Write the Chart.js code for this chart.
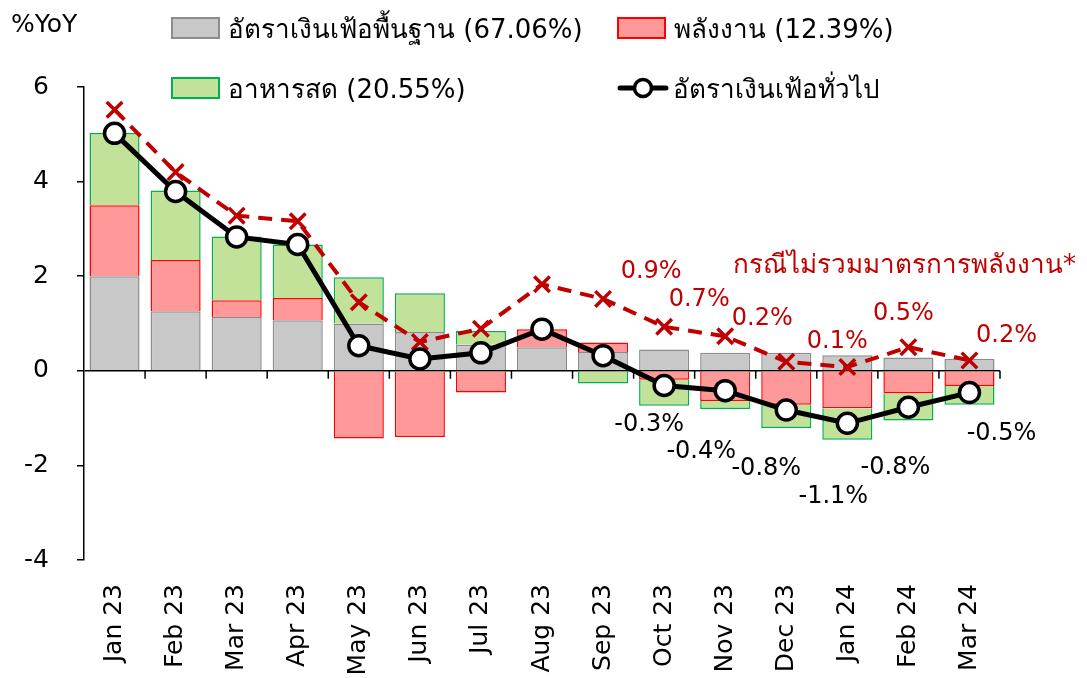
<!DOCTYPE html>
<html>
<head>
<meta charset="utf-8">
<script src="https://cdn.jsdelivr.net/npm/chart.js@4.4.1/dist/chart.umd.min.js"></script>
<style>
  html, body { margin: 0; padding: 0; background: #fff; }
  #wrap { position: relative; width: 1087px; height: 678px; font-family: Tahoma, "DejaVu Sans", sans-serif; }
  #unit { position: absolute; left: 11px; top: 9px; font-size: 25px; }
  .leg { position: absolute; display: flex; align-items: center; font-size: 26px; white-space: nowrap; }
  .leg .box { width: 45px; height: 18px; margin-right: 8px; border: 2px solid; }
  .leg .ln { width: 52px; height: 24px; margin-right: 4px; }
  #note { position: absolute; left: 733px; top: 243px; font-size: 26px; color: #C00000; white-space: nowrap; }
</style>
</head>
<body>
<div id="wrap">
  <canvas id="c" width="1087" height="678"></canvas>
  <div id="unit">%YoY</div>
  <div id="legend"></div>
  <div id="note">กรณีไม่รวมมาตรการพลังงาน*</div>
</div>
<script>
var months = ['Jan 23', 'Feb 23', 'Mar 23', 'Apr 23', 'May 23', 'Jun 23', 'Jul 23', 'Aug 23',
              'Sep 23', 'Oct 23', 'Nov 23', 'Dec 23', 'Jan 24', 'Feb 24', 'Mar 24'];
var core = [2.0, 1.26, 1.14, 1.07, 1.0, 0.82, 0.55, 0.5, 0.4, 0.45, 0.38, 0.38, 0.33, 0.28, 0.25];
var energy = [1.5, 1.08, 0.35, 0.47, -1.43, -1.40, -0.46, 0.38, 0.2, -0.19, -0.64, -0.72, -0.79, -0.48, -0.32];
var freshFood = [1.53, 1.47, 1.35, 1.13, 0.98, 0.82, 0.29, 0.0, -0.27, -0.55, -0.17, -0.49, -0.67, -0.57, -0.40];
var headline = [5.02, 3.79, 2.83, 2.67, 0.53, 0.25, 0.38, 0.88, 0.32, -0.31, -0.42, -0.83, -1.11, -0.77, -0.46];
var exEnergy = [5.52, 4.2, 3.28, 3.16, 1.45, 0.61, 0.89, 1.83, 1.52, 0.93, 0.73, 0.19, 0.08, 0.5, 0.22];
var yTicks = [-4, -2, 0, 2, 4, 6];

var FONT = 'Tahoma, "DejaVu Sans", sans-serif';

// label offsets (dx, dy) for the last six months
var exOffsets = [[-13, -55], [-26, -37], [-24, -43], [-10, -25], [-5, -33], [37, -25]];
var hlOffsets = [[-15, 39], [-24, 61], [-20, 59], [-14, 73], [-13, 61], [32, 41]];
var firstLabel = 9;

var extras = {
    id: 'extras',
    afterDatasetsDraw: function (chart) {
        var ctx = chart.ctx;
        var x = chart.scales.x, y = chart.scales.y;
        var y0 = y.getPixelForValue(0);
        ctx.save();
        // small ticks on the zero line between months
        ctx.strokeStyle = '#000';
        ctx.lineWidth = 1.5;
        ctx.beginPath();
        for (var i = 0; i < months.length; i++) {
            var bx = i < months.length - 1
                ? (x.getPixelForValue(i) + x.getPixelForValue(i + 1)) / 2
                : chart.chartArea.right;
            ctx.moveTo(bx, y0);
            ctx.lineTo(bx, y0 + 8);
        }
        ctx.stroke();

        ctx.font = '24px ' + FONT;
        ctx.textAlign = 'center';
        ctx.textBaseline = 'middle';
        var m1 = chart.getDatasetMeta(3), m2 = chart.getDatasetMeta(4);
        for (var k = firstLabel; k < months.length; k++) {
            var o = hlOffsets[k - firstLabel];
            var p = m1.data[k];
            ctx.fillStyle = '#000';
            ctx.fillText(headline[k].toFixed(1) + '%', p.x + o[0], p.y + o[1]);
            o = exOffsets[k - firstLabel];
            p = m2.data[k];
            ctx.fillStyle = '#C00000';
            ctx.fillText(exEnergy[k].toFixed(1) + '%', p.x + o[0], p.y + o[1]);
        }
        ctx.restore();
    }
};

var chart = new Chart(document.getElementById('c'), {
    type: 'bar',
    data: {
        labels: months,
        datasets: [
            { label: 'อัตราเงินเฟ้อพื้นฐาน (67.06%)', data: core, backgroundColor: '#C8C8C8', borderColor: '#8C8C8C', borderWidth: 1.5, order: 2 },
            { label: 'พลังงาน (12.39%)', data: energy, backgroundColor: '#FF9999', borderColor: '#FF0000', borderWidth: 1.5, order: 2 },
            { label: 'อาหารสด (20.55%)', data: freshFood, backgroundColor: '#C2E199', borderColor: '#00B050', borderWidth: 1.5, order: 2 },
            { type: 'line', label: 'อัตราเงินเฟ้อทั่วไป', data: headline, stack: 'hl', order: 0,
              borderColor: '#000', borderWidth: 5, pointRadius: 10, pointBorderWidth: 3.5,
              pointBackgroundColor: '#fff', pointBorderColor: '#000' },
            { type: 'line', label: 'ex-energy', data: exEnergy, stack: 'ex', order: 1,
              borderColor: '#C00000', borderWidth: 4, borderDash: [14, 9],
              pointStyle: 'crossRot', pointRadius: 11, pointBorderWidth: 3.5, pointBorderColor: '#C00000' }
        ]
    },
    options: {
        responsive: false,
        animation: false,
        layout: { padding: { top: 87, right: 87, left: 0, bottom: 0 } },
        datasets: { bar: { barPercentage: 0.82, categoryPercentage: 1 } },
        plugins: { legend: { display: false }, tooltip: { enabled: false } },
        scales: {
            x: {
                stacked: true,
                grid: { display: false },
                border: { display: false },
                ticks: { color: '#000', font: { family: FONT, size: 25 }, minRotation: 90, maxRotation: 90, padding: 16 },
                afterFit: function (s) { s.height = 118; }
            },
            y: {
                stacked: true,
                min: -4, max: 6,
                afterBuildTicks: function (s) { s.ticks = yTicks.map(function (v) { return { value: v }; }); },
                grid: {
                    color: function (c) { return c.tick && c.tick.value === 0 ? '#000' : 'rgba(0,0,0,0)'; },
                    lineWidth: 1.5, tickColor: '#000', tickLength: 7
                },
                border: { display: true, color: '#000', width: 1.5 },
                ticks: { color: '#000', font: { family: FONT, size: 25 }, padding: 28, crossAlign: 'near' },
                afterFit: function (s) { s.width = 84; }
            }
        }
    },
    plugins: [extras]
});

// legend built from the chart's datasets
(function () {
    var slots = [[171, 28], [617, 28], [171, 88], [617, 88]];
    var holder = document.getElementById('legend');
    chart.data.datasets.slice(0, 4).forEach(function (ds, i) {
        var d = document.createElement('div');
        d.className = 'leg';
        d.style.left = slots[i][0] + 'px';
        d.style.top = (slots[i][1] - 18) + 'px';
        d.style.height = '36px';
        var mark;
        if (ds.type === 'line') {
            mark = document.createElement('canvas');
            mark.className = 'ln';
            mark.width = 52; mark.height = 24;
            var g = mark.getContext('2d');
            g.strokeStyle = ds.borderColor; g.lineWidth = 5; g.lineCap = 'round';
            g.beginPath(); g.moveTo(3, 12); g.lineTo(49, 12); g.stroke();
            g.fillStyle = '#fff'; g.lineWidth = 3.5;
            g.beginPath(); g.arc(26, 12, 8.5, 0, Math.PI * 2); g.fill(); g.stroke();
        } else {
            mark = document.createElement('span');
            mark.className = 'box';
            mark.style.background = ds.backgroundColor;
            mark.style.borderColor = ds.borderColor;
        }
        d.appendChild(mark);
        d.appendChild(document.createTextNode(ds.label));
        holder.appendChild(d);
    });
})();
</script>
</body>
</html>
